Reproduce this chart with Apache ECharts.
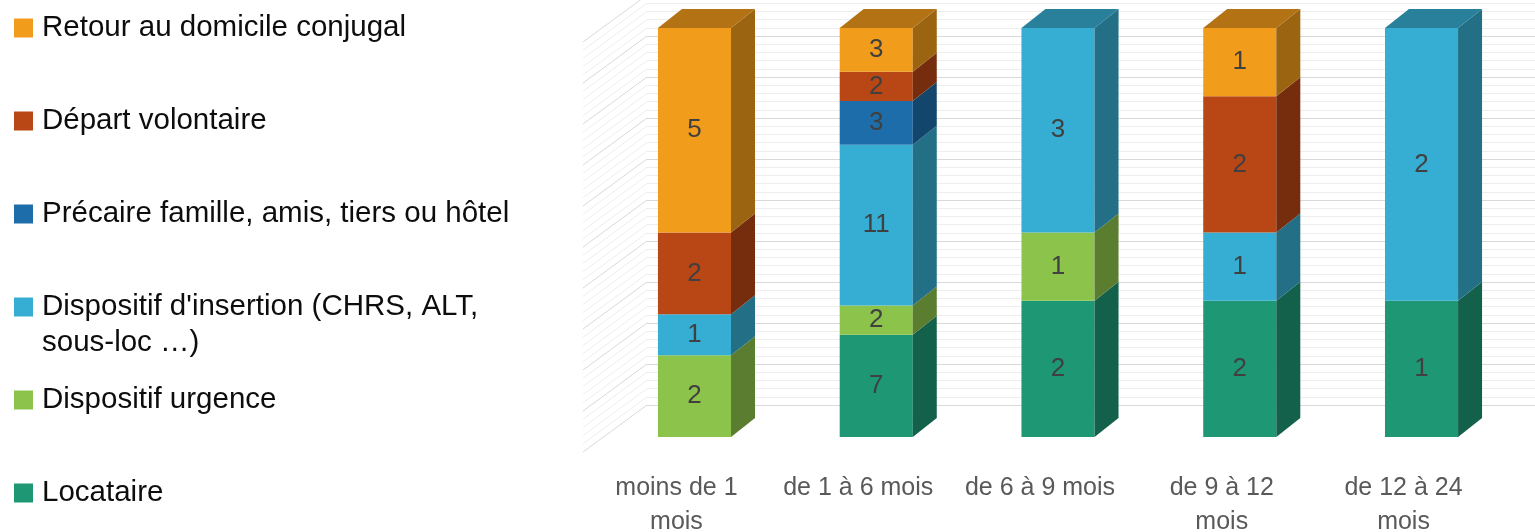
<!DOCTYPE html>
<html>
<head>
<meta charset="utf-8">
<script src="https://cdn.jsdelivr.net/npm/echarts@6/dist/echarts.min.js"></script>
<style>
html,body{margin:0;padding:0;background:#fff;}
#chart{width:1535px;height:532px;}
</style>
</head>
<body>
<div id="chart"></div>
<script>
// ---- data ----
const categories = ['moins de 1 mois', 'de 1 à 6 mois', 'de 6 à 9 mois', 'de 9 à 12 mois', 'de 12 à 24 mois'];
const seriesNames = ['Locataire', 'Dispositif urgence', "Dispositif d'insertion (CHRS, ALT, sous-loc …)", 'Précaire famille, amis, tiers ou hôtel', 'Départ volontaire', 'Retour au domicile conjugal'];
const locataire = [0, 7, 2, 2, 1];
const urgence   = [2, 2, 1, 0, 0];
const insertion = [1, 11, 3, 1, 2];
const precaire  = [0, 3, 0, 0, 0];
const depart    = [2, 2, 0, 2, 0];
const retour    = [5, 3, 0, 1, 0];
const seriesValues = [locataire, urgence, insertion, precaire, depart, retour];
const seriesColors = ['#1E9775', '#8CC34A', '#36ADD2', '#1E6DAB', '#B94615', '#F29C1B'];

// ---- styling constants ----
const DX = 24, DY = -19;            // 3D depth offset
const BAR_RATIO = 0.402;
const FONT = '"Liberation Sans", Arial, sans-serif';

function shade(hex, f) {
  const n = parseInt(hex.slice(1), 16);
  const r = Math.round(((n >> 16) & 255) * f), g = Math.round(((n >> 8) & 255) * f), b = Math.round((n & 255) * f);
  return 'rgb(' + r + ',' + g + ',' + b + ')';
}

// build stacked 100% segments
const totals = categories.map((c, i) => seriesValues.reduce((s, arr) => s + arr[i], 0));
const topIndex = categories.map((c, i) => {
  let t = -1; seriesValues.forEach((arr, k) => { if (arr[i] > 0) t = k; }); return t;
});
const cum = categories.map(() => 0);
const segData = seriesValues.map((arr, k) => {
  const out = [];
  arr.forEach((v, i) => {
    const start = cum[i];
    const end = start + v;
    cum[i] = end;
    if (v > 0) out.push([i, start / totals[i] * 100, end / totals[i] * 100, v, topIndex[i] === k ? 1 : 0]);
  });
  return out;
});

function makeRender(color) {
  const sideC = shade(color, 0.64), topC = shade(color, 0.74);
  return function (params, api) {
    const ci = api.value(0), v0 = api.value(1), v1 = api.value(2), cnt = api.value(3), isTop = api.value(4);
    const pb = api.coord([ci, v0]);
    const pt = api.coord([ci, v1]);
    const bw = api.size([1, 0])[0] * BAR_RATIO;
    const xl = pb[0] - bw / 2, xr = pb[0] + bw / 2;
    const children = [
      { type: 'rect', shape: { x: xl, y: pt[1], width: bw, height: pb[1] - pt[1] }, style: { fill: color } },
      { type: 'polygon', shape: { points: [[xr, pb[1]], [xr + DX, pb[1] + DY], [xr + DX, pt[1] + DY], [xr, pt[1]]] }, style: { fill: sideC } },
      { type: 'text', style: { text: String(cnt), x: pb[0], y: (pb[1] + pt[1]) / 2, align: 'center', verticalAlign: 'middle', fill: '#404040', font: '26px ' + FONT } }
    ];
    if (isTop) {
      children.push({ type: 'polygon', shape: { points: [[xl, pt[1]], [xl + DX, pt[1] + DY], [xr + DX, pt[1] + DY], [xr, pt[1]]] }, style: { fill: topC } });
    }
    return { type: 'group', children: children };
  };
}

const barSeries = seriesNames.map((name, k) => ({
  name: name,
  type: 'custom',
  xAxisIndex: 0, yAxisIndex: 0,
  itemStyle: { color: seriesColors[k] },
  renderItem: makeRender(seriesColors[k]),
  data: segData[k],
  z: 5
}));

// left wall diagonal lines drawn at the back-wall axis ticks
const wallSeries = {
  type: 'custom',
  xAxisIndex: 1, yAxisIndex: 1,
  silent: true,
  data: [[0]],
  z: 1,
  renderItem: function (params, api) {
    const children = [];
    for (let v = 0; v <= 100; v += 2) {
      const p = api.coord([0, v]);
      children.push({ type: 'line', shape: { x1: p[0], y1: p[1], x2: p[0] - 64, y2: p[1] + 47 },
        style: { stroke: v % 10 === 0 ? '#D9D9D9' : '#EEEEEE', lineWidth: 1 } });
    }
    return { type: 'group', children: children };
  }
};

// legends (top to bottom order)
const legendOrder = [5, 4, 3, 2, 1, 0];
const legendCenters = [28, 121, 214, 307, 400, 493];
const legends = legendOrder.map((k, j) => {
  const wrapped = k === 2;
  return {
    orient: 'vertical',
    left: 14,
    top: wrapped ? legendCenters[j] - 54 : legendCenters[j] - 18,
    padding: 0,
    itemWidth: 19, itemHeight: 19,
    icon: 'rect',
    data: [seriesNames[k]],
    selectedMode: false,
    formatter: function (n) { return n === seriesNames[2] ? "{p| }\n{p|Dispositif d'insertion (CHRS, ALT,}\n{p|sous-loc …)}" : '{p|' + n + '}'; },
    textStyle: { fontFamily: FONT, fontSize: 29.5, color: '#0D0D0D', lineHeight: 36,
      rich: { p: { fontFamily: FONT, fontSize: 29.5, color: '#0D0D0D', lineHeight: 36, padding: [0, 0, 0, 4] } } }
  };
});

const option = {
  animation: false,
  backgroundColor: '#fff',
  legend: legends,
  grid: [
    { left: 603.6, right: 22.6, top: 28, bottom: 95, outerBoundsMode: 'none', containLabel: false },
    { left: 647, right: 0, top: -5, bottom: 127, outerBoundsMode: 'none', containLabel: false }
  ],
  xAxis: [
    { type: 'category', gridIndex: 0, data: categories,
      axisLine: { show: false }, axisTick: { show: false },
      axisLabel: { interval: 0, margin: 34, color: '#595959', fontFamily: FONT, fontSize: 25, lineHeight: 34,
        padding: [0, 36, 0, 0],
        formatter: function (v) { return v.length > 13 ? v.replace(/ mois$/, '\nmois') : v; } } },
    { type: 'value', gridIndex: 1, min: 0, max: 1, show: false }
  ],
  yAxis: [
    { type: 'value', gridIndex: 0, min: 0, max: 100, show: false, splitLine: { show: false } },
    { type: 'value', gridIndex: 1, min: 0, max: 100, interval: 10,
      axisLine: { show: false }, axisTick: { show: false }, axisLabel: { show: false },
      splitLine: { show: true, lineStyle: { color: '#D9D9D9', width: 1 } },
      minorTick: { show: false, splitNumber: 5 },
      minorSplitLine: { show: true, lineStyle: { color: '#EEEEEE', width: 1 } } }
  ],
  series: [wallSeries].concat(barSeries)
};

const chart = echarts.init(document.getElementById('chart'), null, { renderer: 'canvas' });
chart.setOption(option);
</script>
</body>
</html>
